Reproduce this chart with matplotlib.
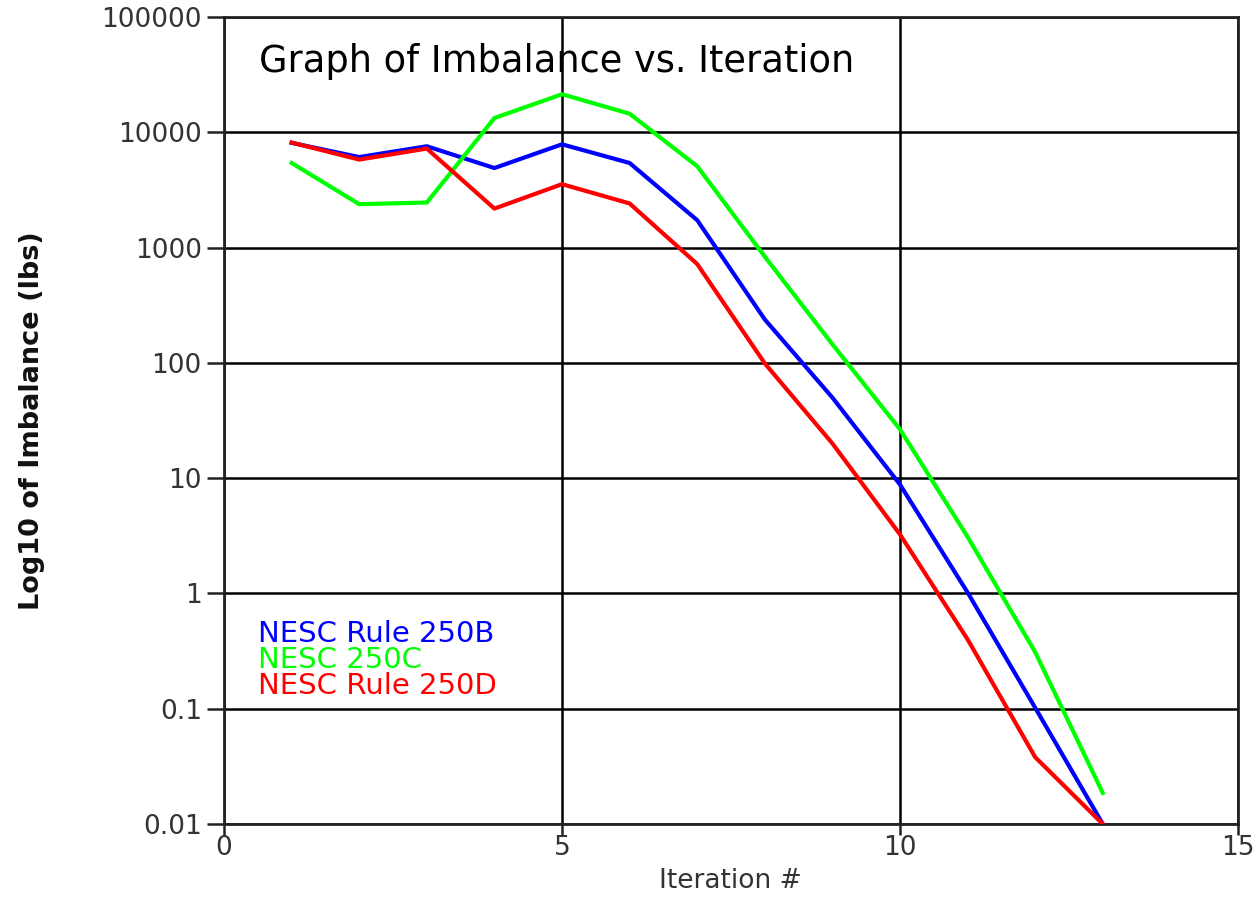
import matplotlib
matplotlib.use("Agg")
import matplotlib.pyplot as plt
from matplotlib.ticker import FixedLocator, FixedFormatter

iterations = [1, 2, 3, 4, 5, 6, 7, 8, 9, 10, 11, 12, 13]
rule_250b = [8100, 6100, 7570, 4900, 7870, 5420, 1730, 238, 50, 8.8, 1.02, 0.102, 0.01]
rule_250c = [5420, 2380, 2460, 13300, 21400, 14500, 5080, 835, 145, 26.5, 3.1, 0.31, 0.0186]
rule_250d = [8150, 5800, 7230, 2180, 3550, 2415, 720, 99, 20, 3.25, 0.40, 0.038, 0.01]

series_names = ["NESC Rule 250B", "NESC 250C", "NESC Rule 250D"]
series_colors = ["#0000ff", "#00ff00", "#ff0000"]

y_ticks = [0.01, 0.1, 1, 10, 100, 1000, 10000, 100000]
y_labels = ["0.01", "0.1", "1", "10", "100", "1000", "10000", "100000"]
x_ticks = [0, 5, 10, 15]

plt.rcParams["font.family"] = ["DejaVu Sans"]

fig = plt.figure(figsize=(12.53, 9.21), dpi=100)
ax = fig.add_axes([0.1788, 0.1053, 0.8092, 0.8762])

for vals, color in zip([rule_250b, rule_250c, rule_250d], series_colors):
    ax.plot(iterations, vals, color=color, linewidth=3, zorder=3)

ax.set_yscale("log")
ax.set_xlim(0, 15)
ax.set_ylim(0.01, 100000)
ax.yaxis.set_major_locator(FixedLocator(y_ticks))
ax.yaxis.set_major_formatter(FixedFormatter(y_labels))
ax.yaxis.set_minor_locator(FixedLocator([]))
ax.set_xticks(x_ticks)
ax.set_xticklabels([str(t) for t in x_ticks])

ax.grid(True, which="major", color="black", linewidth=1.8, zorder=1)
for s in ax.spines.values():
    s.set_linewidth(2)
    s.set_color("#222222")

ax.tick_params(axis="y", direction="out", length=12, width=1.8,
               labelsize=19, labelcolor="#333333", color="#222222", pad=4)
ax.tick_params(axis="x", direction="out", length=8, width=1.8,
               labelsize=19, labelcolor="#333333", color="#222222", pad=0)

ax.set_xlabel("Iteration #", fontsize=19, color="#333333", va="center")
ax.xaxis.set_label_coords(0.499, -0.071)
ax.set_ylabel("Log10 of Imbalance (lbs)", fontsize=19.5, fontweight="bold",
              color="#111111", va="center")
ax.yaxis.set_label_coords(-0.189, 0.5)

ax.text(0.0345, 0.9455, "Graph of Imbalance vs. Iteration", transform=ax.transAxes,
        fontsize=26.5, color="black", ha="left", va="center")

for i, (name, color) in enumerate(zip(series_names, series_colors)):
    ax.text(0.0335, 0.2354 - i * 0.0322, name, transform=ax.transAxes,
            fontsize=21, color=color, ha="left", va="center")

fig.savefig("out.png", dpi=100, facecolor="white")
